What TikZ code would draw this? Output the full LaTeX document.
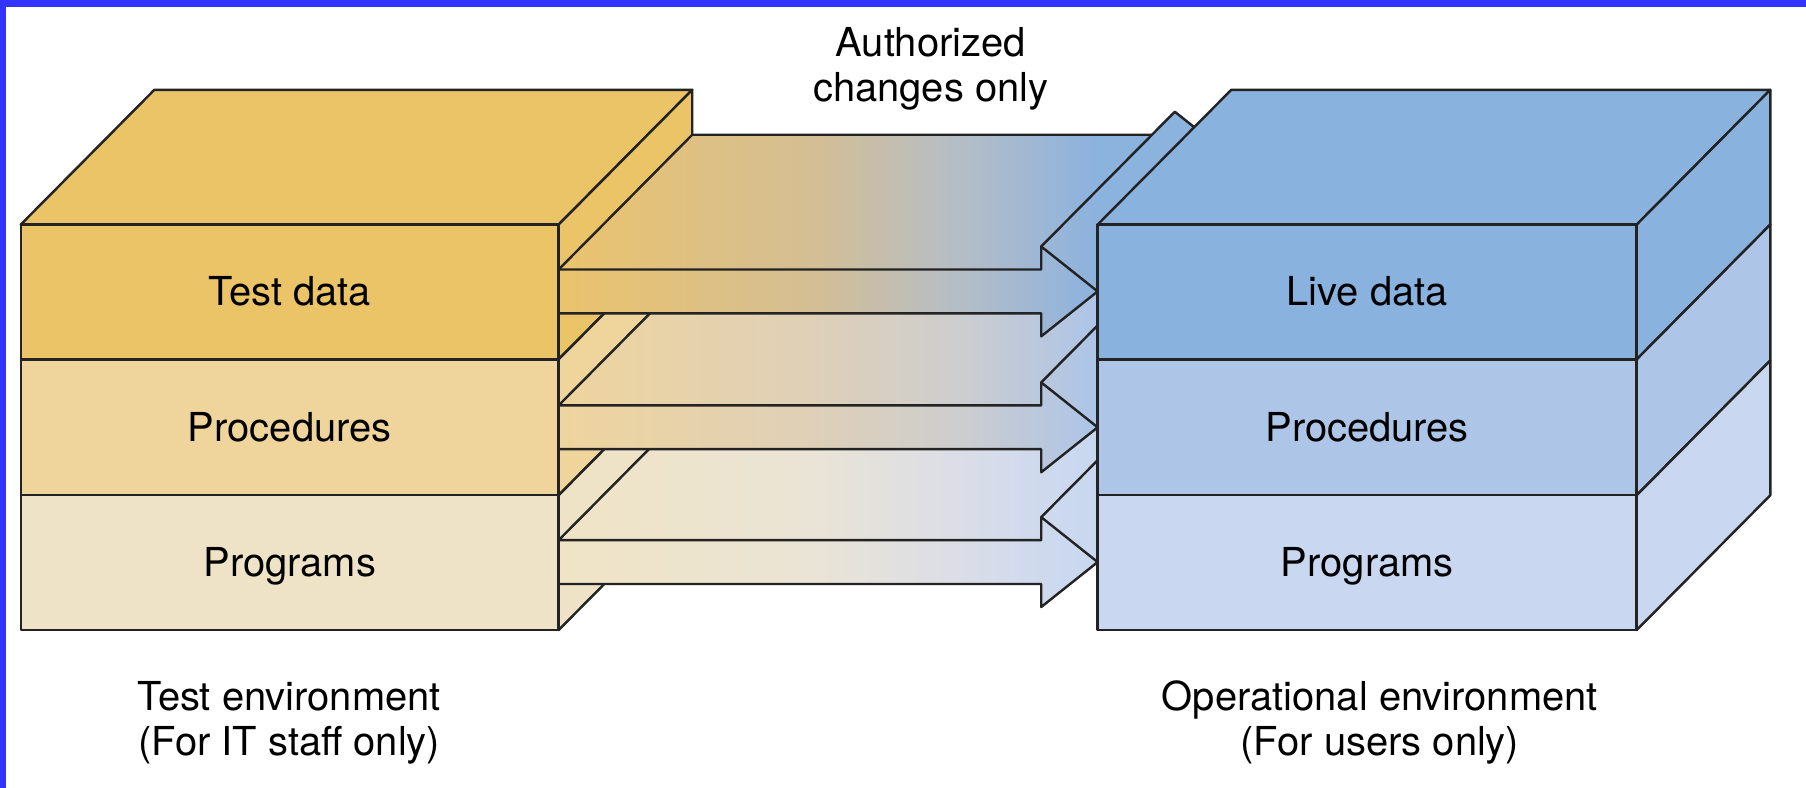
\documentclass[tikz,border=0pt]{standalone}
\usepackage{fontspec}
\setmainfont{TeX Gyre Heros}
\definecolor{border}{RGB}{51,51,255}
\definecolor{lc}{RGB}{35,35,35}
\definecolor{LT}{RGB}{235,196,104}
\definecolor{LP}{RGB}{239,213,156}
\definecolor{LG}{RGB}{239,227,199}
\definecolor{RT}{RGB}{138,178,222}
\definecolor{RP}{RGB}{173,198,232}
\definecolor{RG}{RGB}{201,216,240}
% arrow gradients
\definecolor{a0}{RGB}{234,195,108}
\definecolor{a1}{RGB}{212,190,148}
\definecolor{a2}{RGB}{182,190,196}
\definecolor{a3}{RGB}{162,184,210}
\definecolor{a4}{RGB}{140,178,222}
\definecolor{b0}{RGB}{238,212,158}
\definecolor{b1}{RGB}{223,208,183}
\definecolor{b2}{RGB}{206,206,206}
\definecolor{b3}{RGB}{190,200,218}
\definecolor{b4}{RGB}{172,197,232}
\definecolor{c0}{RGB}{240,228,197}
\definecolor{c1}{RGB}{234,228,214}
\definecolor{c2}{RGB}{220,222,230}
\definecolor{c3}{RGB}{209,218,237}
\definecolor{c4}{RGB}{200,215,240}
\pgfdeclarehorizontalshading{arrowA}{100bp}{color(0bp)=(a0); color(25bp)=(a0); color(43.7bp)=(a1); color(54.3bp)=(a2); color(59.6bp)=(a3); color(65bp)=(a4); color(100bp)=(a4)}
\pgfdeclarehorizontalshading{arrowB}{100bp}{color(0bp)=(b0); color(25bp)=(b0); color(43.7bp)=(b1); color(54.3bp)=(b2); color(59.6bp)=(b3); color(65bp)=(b4); color(100bp)=(b4)}
\pgfdeclarehorizontalshading{arrowC}{100bp}{color(0bp)=(c0); color(25bp)=(c0); color(43.7bp)=(c1); color(54.3bp)=(c2); color(59.6bp)=(c3); color(65bp)=(c4); color(100bp)=(c4)}
\newcommand\myflatarrow[2]{%
  \pgfmathsetmacro\ayb{#1+38}%
  \pgfmathsetmacro\ahtop{#1-20}%
  \pgfmathsetmacro\ahbot{#1+58}%
  \pgfmathsetmacro\atip{#1+19}%
  \pgfmathsetmacro\aback{#1-117}%
  \pgfmathsetmacro\ahback{#1-137}%
  \pgfmathsetmacro\atback{#1+19-117}%
  \shade[shading=#2] (485,\ayb) -- (485,#1) -- (601,\aback) -- (1000.2,\aback) -- (1020,\ahback) -- (1069,\atback) -- (953,\atip) -- (904,\ahbot) -- (904,\ayb) -- cycle;
  \draw[edge] (485,#1) -- (904,#1) -- (904,\ahtop) -- (953,\atip) -- (904,\ahbot) -- (904,\ayb) -- (485,\ayb);
  \draw[edge] (485,#1) -- (601,\aback) -- (1000.2,\aback);
  \draw[edge] (904,\ahtop) -- (1020,\ahback) -- (1069,\atback);
}
\begin{document}
\begin{tikzpicture}[x=0.01cm,y=-0.01cm,
  edge/.style={draw=lc, line width=0.6pt, line join=round},
  lbl/.style={font=\fontsize{9.85}{11}\selectfont, text=black, inner sep=0pt, anchor=base}]
\useasboundingbox (0,0) rectangle (1568,684);
\fill[white] (0,0) rectangle (1568,684);
\fill[border] (0,0) rectangle (1568,6);
\fill[border] (0,0) rectangle (5,684);

% left box: top and side faces
\path[edge, fill=LT] (18,195) -- (134,78) -- (601,78) -- (485,195) -- cycle;
\path[edge, fill=LT] (485,195) -- (601,78) -- (601,195) -- (485,312) -- cycle;
\path[edge, fill=LP] (485,312) -- (601,195) -- (601,313) -- (485,430) -- cycle;
\path[edge, fill=LG] (485,430) -- (601,313) -- (601,430) -- (485,547) -- cycle;

% arrows, back to front
\myflatarrow{469}{arrowC}
\myflatarrow{352}{arrowB}
\myflatarrow{234}{arrowA}

% left box: front faces
\path[edge, fill=LT] (18,195) rectangle (485,312);
\path[edge, fill=LP] (18,312) rectangle (485,430);
\path[edge, fill=LG] (18,430) rectangle (485,547);

% right box
\path[edge, fill=RT] (953,195) -- (1069,78) -- (1537,78) -- (1421,195) -- cycle;
\path[edge, fill=RT] (1421,195) -- (1537,78) -- (1537,195) -- (1421,312) -- cycle;
\path[edge, fill=RP] (1421,312) -- (1537,195) -- (1537,313) -- (1421,430) -- cycle;
\path[edge, fill=RG] (1421,430) -- (1537,313) -- (1537,430) -- (1421,547) -- cycle;
\path[edge, fill=RT] (953,195) rectangle (1421,312);
\path[edge, fill=RP] (953,312) rectangle (1421,430);
\path[edge, fill=RG] (953,430) rectangle (1421,547);

% labels
\node[lbl] (td)  at (251.5,265.5) {Test data};
\node[lbl] (tp)  at (251.5,383)   {Procedures};
\node[lbl] (tg)  at (251.5,500.5) {Programs};
\node[lbl] (ld)  at (1187,265.5)  {Live data};
\node[lbl] (lp)  at (1187,383)    {Procedures};
\node[lbl] (lg)  at (1187,500.5)  {Programs};
\node[lbl] (au1) at (808,49)  {Authorized};
\node[lbl] (au2) at (808,88)  {changes only};
\node[lbl] (te1) at (251,617) {Test environment};
\node[lbl] (te2) at (251,656) {(For IT staff only)};
\node[lbl] (oe1) at (1198,617) {Operational environment};
\node[lbl] (oe2) at (1198,656) {(For users only)};
\end{tikzpicture}
\end{document}
